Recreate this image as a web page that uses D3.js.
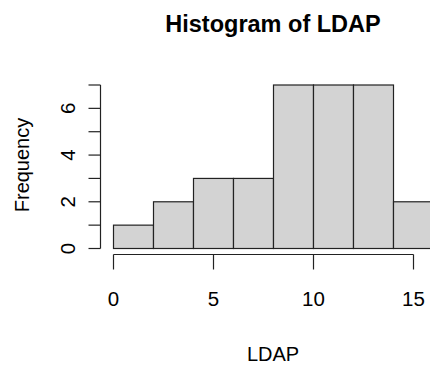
<!DOCTYPE html>
<html>
<head>
<meta charset="utf-8">
<script src="https://cdn.jsdelivr.net/npm/d3@7"></script>
<style>
  html, body { margin: 0; padding: 0; background: #fff; overflow: hidden; }
  text { font-family: "Liberation Sans", Arial, sans-serif; fill: #000; }
</style>
</head>
<body>
<script>
// Data
const binStarts = [0, 2, 4, 6, 8, 10, 12, 14];
const binWidth = 2;
const frequencies = [1, 2, 3, 3, 7, 7, 7, 2];
const xTicks = [0, 5, 10, 15];
const yTicks = [0, 1, 2, 3, 4, 5, 6, 7];
const yTickLabels = [0, 2, 4, 6];
const titleText = "Histogram of LDAP";
const xLabel = "LDAP";
const yLabel = "Frequency";

const W = 430, H = 365;
const svg = d3.select("body").append("svg").attr("width", W).attr("height", H);

const x = d3.scaleLinear().domain([0, 15]).range([113.5, 413.5]);
const y = d3.scaleLinear().domain([0, 7]).range([248.5, 85]);

// Bars
svg.append("g").selectAll("rect")
  .data(binStarts.map((s, i) => ({ s, f: frequencies[i] })))
  .join("rect")
  .attr("x", d => x(d.s))
  .attr("y", d => y(d.f))
  .attr("width", d => x(d.s + binWidth) - x(d.s))
  .attr("height", d => y(0) - y(d.f))
  .attr("fill", "#d3d3d3")
  .attr("stroke", "#222")
  .attr("stroke-width", 1.2);

// X axis
const xg = svg.append("g").attr("transform", "translate(0,254.5)");
xg.append("line").attr("x1", x(0)).attr("x2", x(15)).attr("stroke", "#222").attr("stroke-width", 1.2);
xg.selectAll("line.t").data(xTicks).join("line").attr("class", "t")
  .attr("x1", d => x(d)).attr("x2", d => x(d)).attr("y1", 0).attr("y2", 15)
  .attr("stroke", "#222").attr("stroke-width", 1.2);
xg.selectAll("text").data(xTicks).join("text")
  .attr("x", d => x(d)).attr("y", 51)
  .attr("text-anchor", "middle").attr("font-size", 20.5)
  .text(d => d);

// Y axis
const yg = svg.append("g").attr("transform", "translate(100.5,0)");
yg.append("line").attr("y1", y(0)).attr("y2", y(7)).attr("stroke", "#222").attr("stroke-width", 1.2);
yg.selectAll("line.t").data(yTicks).join("line").attr("class", "t")
  .attr("y1", d => y(d)).attr("y2", d => y(d)).attr("x1", 0).attr("x2", -12)
  .attr("stroke", "#222").attr("stroke-width", 1.2);
yg.selectAll("text").data(yTickLabels).join("text")
  .attr("transform", d => `translate(-26,${y(d)}) rotate(-90)`)
  .attr("text-anchor", "middle").attr("font-size", 20.5)
  .text(d => d);

// Titles
svg.append("text").attr("x", 273).attr("y", 31.5).attr("text-anchor", "middle")
  .attr("font-size", 23.5).attr("font-weight", "bold").text(titleText);
svg.append("text").attr("x", 273).attr("y", 361).attr("text-anchor", "middle")
  .attr("font-size", 20).text(xLabel);
svg.append("text").attr("transform", "translate(29,165) rotate(-90)")
  .attr("text-anchor", "middle").attr("font-size", 20).text(yLabel);
</script>
</body>
</html>
